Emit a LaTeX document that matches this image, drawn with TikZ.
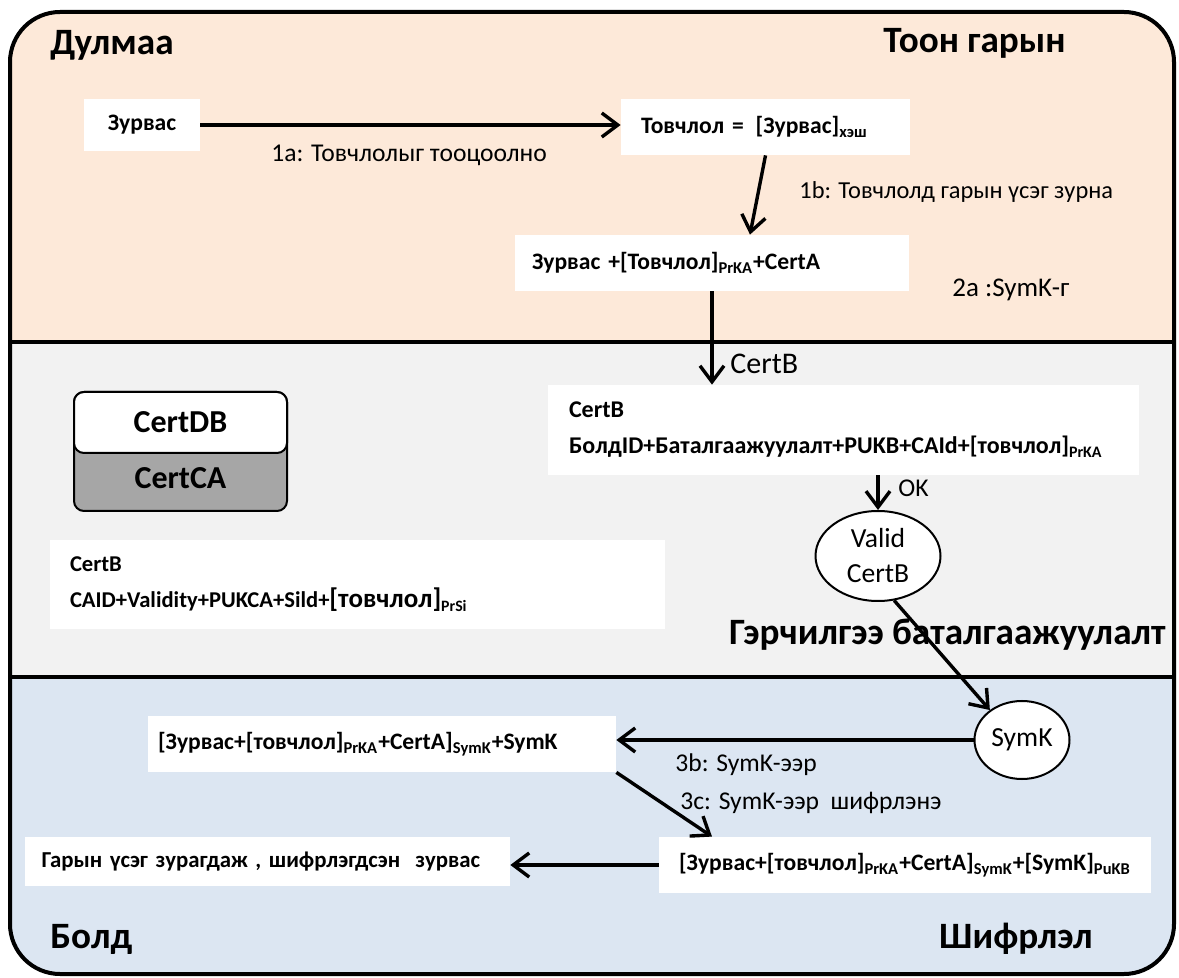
\documentclass[tikz,border=0pt]{standalone}
\usepackage{fontspec}
\setmainfont{Carlito}
\usetikzlibrary{positioning,arrows.meta,shapes.geometric}

\definecolor{signpeach}{HTML}{FDE9D9}
\definecolor{checkgray}{HTML}{F2F2F2}
\definecolor{cryptblue}{HTML}{DCE6F2}
\definecolor{storegray}{HTML}{A6A6A6}

\begin{document}
\begin{tikzpicture}[
    x=0.5pt, y=-0.5pt,
    msgbox/.style={rectangle, fill=white, inner sep=0pt, align=left, font=\bfseries\fontsize{11.8}{14}\selectfont},
    certbox/.style={msgbox, font=\bfseries\fontsize{12}{18}\selectfont},
    title/.style={inner sep=0pt, font=\bfseries\fontsize{18.6}{22}\selectfont},
    steplabel/.style={inner sep=0pt, font=\fontsize{12.8}{15}\selectfont},
    keynode/.style={ellipse, draw, line width=1pt, fill=white, inner sep=0pt, align=center, font=\fontsize{13.8}{17.5}\selectfont},
    dbbox/.style={rectangle, draw, rounded corners=5pt, line width=1pt, minimum width=106.5pt, font=\bfseries\fontsize{16}{18}\selectfont},
    arrow/.style={-{Straight Barb[length=8pt,width=12pt]}, line width=1.7pt}
]
    \useasboundingbox (0,0) rectangle (1179,978);

    % three lanes
    \begin{scope}
        \clip[rounded corners=25pt] (10,12) rectangle (1174,974);
        \fill[signpeach] (0,0) rectangle (1179,342);
        \fill[checkgray] (0,342) rectangle (1179,677);
        \fill[cryptblue] (0,677) rectangle (1179,978);
    \end{scope}
    \draw[line width=2pt, rounded corners=25pt] (10,12) rectangle (1174,974);
    \draw[line width=2pt] (10,342) -- (1174,342);
    \draw[line width=2pt] (10,677) -- (1174,677);

    % lane titles
    \node[title, anchor=base west] (dulmaa) at (50,55) {Дулмаа};
    \node[title, anchor=base east] (toon) at (1066,53) {Тоон гарын};
    \node[title, anchor=base east] (gerchilgee) at (1166,645) {Гэрчилгээ баталгаажуулалт};
    \node[title, anchor=base west] (bold) at (50,948) {Болд};
    \node[title, anchor=base east] (shifr) at (1093,948) {Шифрлэл};

    % signing
    \node[msgbox, minimum width=58pt, minimum height=26pt, align=center] (zurvas) at (142,125) {Зурвас};
    \node[msgbox, minimum width=144.5pt, minimum height=28pt, text width=124.5pt] (tovchlol) at (765.5,127) {Товчлол =\ \,[Зурвас]\textsubscript{хэш}};
    \node[msgbox, minimum width=197pt, minimum height=28pt, text width=180pt] (signed) at (712,263) {Зурвас +[Товчлол]\textsubscript{PrKA}+CertA};

    % certificate check
    \node[dbbox, fill=storegray, minimum height=59.5pt] (certstore) at (180.5,451.5) {};
    \node[dbbox, fill=white, minimum height=30.5pt] (certdb) at (180.5,422.5) {CertDB};
    \node[inner sep=0pt, font=\bfseries\fontsize{16}{18}\selectfont] (certca) at (180.5,478) {CertCA};
    \node[certbox, minimum width=295.5pt, minimum height=45pt, text width=274.5pt] (certbr) at (843.5,430) {CertB\\БолдID+Баталгаажуулалт+PUKB+CAId+[товчлол]\textsubscript{PrKA}};
    \node[certbox, font=\bfseries\fontsize{11.3}{18}\selectfont, minimum width=307.5pt, minimum height=44.5pt, text width=287.5pt] (certbl) at (357.5,584.5) {CertB\\CAID+Validity+PUKCA+Sild+{\fontsize{13.5}{18}\selectfont[товчлол]}\textsubscript{PrSi}};
    \node[keynode, minimum width=62.5pt, minimum height=45pt] (valid) at (878,556) {Valid\\CertB};

    % encryption
    \node[keynode, minimum width=47.5pt, minimum height=39pt] (symk) at (1022,740) {SymK};
    \node[msgbox, minimum width=234pt, minimum height=28pt, text width=224pt] (symenc) at (382,744) {[Зурвас+[товчлол]\textsubscript{PrKA}+CertA]\textsubscript{SymK}+SymK};
    \node[msgbox, minimum width=246pt, minimum height=28pt, text width=226pt] (final) at (905,865) {[Зурвас+[товчлол]\textsubscript{PrKA}+CertA]\textsubscript{SymK}+[SymK]\textsubscript{PuKB}};
    \node[msgbox, font=\bfseries\fontsize{11.4}{14}\selectfont, minimum width=242.5pt, minimum height=24.5pt, text width=226pt] (result) at (267.5,861.5) {Гарын үсэг зурагдаж , шифрлэгдсэн\ \ зурвас};

    % flow
    \draw[arrow] (zurvas.east) -- (zurvas.east -| tovchlol.west);
    \draw[arrow] (tovchlol.south) -- ([xshift=19pt]signed.north);
    \draw[arrow] (signed.south) -- (signed.south |- certbr.north);
    \draw[arrow] (valid.north |- certbr.south) -- (valid.north);
    \draw[arrow] (valid.290) -- (symk.137);
    \draw[arrow] (symk.west) -- (symk.west -| symenc.east);
    \draw[arrow] (symenc.south east) -- ([xshift=-96.5pt]final.north);
    \draw[arrow] (final.west) -- (final.west -| result.east);

    % step labels
    \node[steplabel, anchor=base west] (l1a) at (271,162) {1а: Товчлолыг тооцоолно};
    \node[steplabel, anchor=base west, font=\fontsize{12.2}{15}\selectfont] (l1b) at (799,199) {1b: Товчлолд гарын үсэг зурна};
    \node[steplabel, anchor=base west, font=\fontsize{13.5}{15}\selectfont] (l2a) at (952,297) {2a :SymK-г};
    \node[steplabel, anchor=base west, font=\fontsize{15}{17}\selectfont] (lcert) at (730,374) {CertB};
    \node[steplabel, anchor=base west] (lok) at (898,497) {OK};
    \node[steplabel, anchor=base west] (l3b) at (675,771) {3b: SymK-ээр};
    \node[steplabel, anchor=base west] (l3c) at (680,809) {3c: SymK-ээр\ \ шифрлэнэ};
\end{tikzpicture}
\end{document}
